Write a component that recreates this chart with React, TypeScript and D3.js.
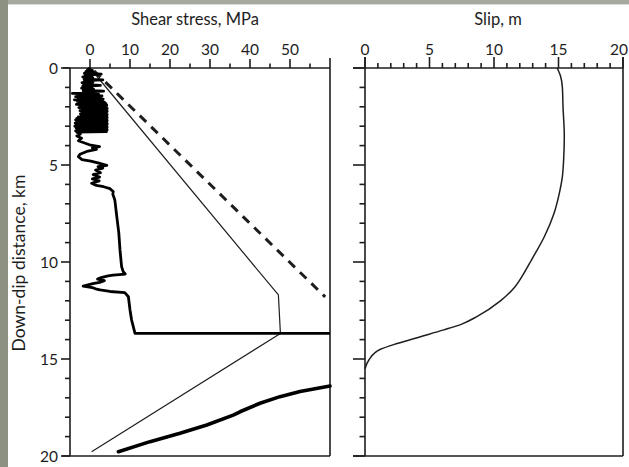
import React from "react";
import * as d3 from "d3";

// Down-dip profiles along the fault: [depth km, shear stress MPa]
const stressDrop: [number, number][] = [
  [0.0, 0.0], [0.08, -0.6], [0.12, 0.6], [0.17, -1.0], [0.22, 0.9], [0.27, -1.4],
  [0.32, 2.8], [0.36, -1.2], [0.41, 0.5], [0.46, -1.8], [0.51, 0.7], [0.56, -1.5],
  [0.61, 3.2], [0.65, -1.3], [0.7, 0.8], [0.75, -2.0], [0.8, 0.6], [0.85, -1.6],
  [0.9, 2.6], [0.94, -1.8], [0.99, 0.5], [1.04, -2.1], [1.09, 0.9], [1.14, -1.7],
  [1.19, 3.4], [1.24, -1.5], [1.29, 0.6], [1.31, -4.4], [1.34, 1.0],
  [1.36, 2.2], [1.4, -3.0], [1.44, 3.0], [1.48, -3.6], [1.52, 2.6], [1.56, -2.4],
  [1.6, 3.3], [1.64, -3.9], [1.68, 3.1], [1.72, -3.2], [1.76, 3.6], [1.8, -2.6],
  [1.84, 4.0], [1.88, -3.4], [1.92, 4.2], [1.96, -2.2], [2.0, 4.1], [2.04, -2.8],
  [2.08, 4.3], [2.12, -2.0], [2.16, 4.2], [2.2, -2.5], [2.24, 4.3], [2.28, -1.9],
  [2.32, 4.1], [2.36, -2.4], [2.4, 4.3], [2.44, -2.2], [2.48, 4.2], [2.52, -2.9],
  [2.56, 4.3], [2.6, -3.3], [2.64, 4.2], [2.68, -3.6], [2.72, 4.3], [2.76, -3.1],
  [2.8, 4.2], [2.84, -3.7], [2.88, 4.3], [2.92, -3.4], [2.96, 4.2], [3.0, -3.8],
  [3.04, 4.3], [3.08, -3.5], [3.12, 4.2], [3.16, -3.2], [3.2, 4.3], [3.24, -3.6],
  [3.28, 4.1], [3.31, -3.3],
  [3.4, -2.4], [3.5, -3.3], [3.62, -2.1], [3.75, -2.9], [3.88, -1.2], [3.98, 0.2],
  [4.05, 2.4], [4.12, 0.6], [4.2, 1.6], [4.3, -0.8], [4.45, -2.5], [4.57, -2.9],
  [4.72, -2.0], [4.8, 0.2], [4.9, 2.2], [5.02, 4.2], [5.08, 2.0], [5.16, 3.2],
  [5.26, 1.4], [5.4, 2.6], [5.5, 0.8], [5.62, 2.4], [5.72, 0.6], [5.82, 2.3],
  [5.94, 0.4], [6.05, 1.6], [6.12, 3.4], [6.22, 5.0], [6.37, 5.8], [6.5, 5.7],
  [6.8, 6.2], [7.66, 6.7], [8.5, 7.2], [9.38, 7.5], [10.24, 7.9], [10.5, 8.3],
  [10.62, 8.8], [10.68, 5.8], [10.72, 4.5], [10.8, 2.8], [10.88, 1.9], [10.96, 3.6],
  [11.05, 2.4], [11.12, 0.7], [11.24, -1.7], [11.32, 0.6], [11.38, 1.4], [11.44, 2.5],
  [11.52, 5.0], [11.58, 8.7], [11.79, 9.6], [12.47, 10.0], [12.99, 10.4],
  [13.68, 11.25], [13.68, 60],
];

// Envelope of the densely oscillating shallow section: [depth km, low MPa, high MPa]
const stressBand: [number, number, number][] = [
  [0.1, -0.8, 0.5], [0.4, -1.5, 0.6], [0.8, -1.8, 0.7], [1.25, -2.0, 0.8],
  [1.34, -3.0, 2.0], [1.5, -3.4, 3.0], [1.8, -3.0, 3.6], [1.9, -3.0, 4.2],
  [2.1, -2.2, 4.3], [2.5, -2.5, 4.3], [2.7, -3.5, 4.3], [3.0, -3.6, 4.3],
  [3.3, -3.4, 4.2],
];

const staticStrength: [number, number][] = [
  [0.0, 0.0], [11.7, 47.1], [13.68, 47.6], [19.78, 0.4],
];

const lithostatic: [number, number][] = [
  [0.15, 1.0], [11.8, 58.8],
];

const deepStress: [number, number][] = [
  [19.78, 7.1], [19.26, 15.0], [18.83, 22.5], [18.4, 29.2], [17.89, 35.8],
  [17.72, 37.5], [17.28, 42.5], [16.94, 47.5], [16.68, 52.5], [16.39, 60.0],
];

// [depth km, slip m]
const slipProfile: [number, number][] = [
  [0, 14.9], [0.4, 15.15], [1.0, 15.3], [2.0, 15.35], [3.5, 15.45], [4.7, 15.4],
  [5.6, 15.3], [6.5, 15.05], [7.5, 14.65], [8.7, 13.9], [9.9, 12.9], [10.6, 12.3],
  [11.3, 11.6], [12.0, 10.5], [12.8, 8.7], [13.2, 7.5], [13.5, 6.1], [13.85, 4.3],
  [14.2, 2.5], [14.5, 1.2], [15.05, 0.3], [15.5, 0],
];

const stressMajor = [0, 10, 20, 30, 40, 50];
const stressMinor = [5, 15, 25, 35, 45, 55];
const depthLabels = [0, 5, 10, 15, 20];
const depthTicks = d3.range(0, 21);
const slipLabels = [0, 5, 10, 15, 20];
const slipTicks = d3.range(0, 21);

const FONT = "Lato, 'Open Sans', sans-serif";
const INK = "#1e1e1e";

export default function App() {
  const W = 629;
  const H = 467;
  const xs = d3.scaleLinear().domain([-5, 60]).range([70, 330]);
  const xm = d3.scaleLinear().domain([0, 20]).range([365, 623]);
  const y = d3.scaleLinear().domain([0, 20]).range([68, 456]);

  const stressLine = d3
    .line<[number, number]>()
    .x((d) => xs(d[1]))
    .y((d) => y(d[0]));
  const bandArea = d3
    .area<[number, number, number]>()
    .y((d) => y(d[0]))
    .x0((d) => xs(d[1]))
    .x1((d) => xs(d[2]));
  const slipLine = d3
    .line<[number, number]>()
    .x((d) => xm(d[1]))
    .y((d) => y(d[0]))
    .curve(d3.curveMonotoneY);

  const top = y(0);
  const bottom = y(20);

  return (
    <svg
      width={W}
      height={H}
      style={{ position: "absolute", left: 0, top: 0, background: "#fff" }}
      fontFamily={FONT}
    >
      <rect x={0} y={0} width={W} height={H} fill="#fff" />
      <rect x={0} y={0} width={W} height={4} fill="#a6a99f" />
      <rect x={0} y={4} width={W} height={1} fill="#d9dbd5" />
      <rect x={0} y={0} width={8} height={H} fill="#8d9181" />

      {/* titles */}
      <text x={195} y={25} textAnchor="middle" fontSize={16.5} fill={INK}>
        Shear stress, MPa
      </text>
      <text x={498} y={25} textAnchor="middle" fontSize={16.5} fill={INK}>
        Slip, m
      </text>
      <text
        transform={`translate(25,${263}) rotate(-90)`}
        textAnchor="middle"
        fontSize={17.5}
        fill={INK}
      >
        Down-dip distance, km
      </text>

      {/* stress panel frame */}
      <g stroke={INK} strokeWidth={1.6} fill="none">
        <line x1={63} x2={xs(60)} y1={top} y2={top} />
        <line x1={xs(-5)} x2={xs(-5)} y1={top} y2={bottom} />
        <line x1={62} x2={xs(60)} y1={bottom} y2={bottom} />
        <line x1={xs(60)} x2={xs(60)} y1={top - 10} y2={bottom} />
        {stressMajor.map((v) => (
          <line key={"sM" + v} x1={xs(v)} x2={xs(v)} y1={top} y2={top - 9} />
        ))}
        {stressMinor.map((v) => (
          <line key={"sm" + v} x1={xs(v)} x2={xs(v)} y1={top} y2={top - 4.5} />
        ))}
        {depthTicks.map((v) => (
          <line
            key={"d" + v}
            x1={xs(-5)}
            x2={xs(-5) - (v % 5 === 0 ? 9 : 5)}
            y1={y(v)}
            y2={y(v)}
          />
        ))}
      </g>
      {stressMajor.map((v) => (
        <text key={"st" + v} x={xs(v)} y={55} textAnchor="middle" fontSize={15.5} fill={INK}>
          {v}
        </text>
      ))}
      {depthLabels.map((v) => (
        <text key={"dt" + v} x={58} y={y(v) + 5.5} textAnchor="end" fontSize={15.5} fill={INK}>
          {v}
        </text>
      ))}

      {/* slip panel frame */}
      <g stroke={INK} strokeWidth={1.6} fill="none">
        <line x1={353} x2={xm(20)} y1={top} y2={top} />
        <line x1={xm(0)} x2={xm(0)} y1={top - 11} y2={bottom} />
        <line x1={353} x2={xm(20)} y1={bottom} y2={bottom} />
        <line x1={xm(20)} x2={xm(20)} y1={top - 11} y2={bottom} />
        {slipTicks.map((v) => (
          <line
            key={"m" + v}
            x1={xm(v)}
            x2={xm(v)}
            y1={top}
            y2={top - (v % 5 === 0 ? 11 : 5)}
          />
        ))}
        {depthTicks.map((v) => (
          <line
            key={"md" + v}
            x1={xm(0)}
            x2={xm(0) - (v % 5 === 0 ? 12 : 5.5)}
            y1={y(v)}
            y2={y(v)}
          />
        ))}
      </g>
      {slipLabels.map((v) => {
        const last = v === slipLabels[slipLabels.length - 1];
        return (
          <text
            key={"mt" + v}
            x={last ? W - 1 : xm(v)}
            y={55}
            textAnchor={last ? "end" : "middle"}
            fontSize={15.5}
            fill={INK}
          >
            {v}
          </text>
        );
      })}

      {/* stress curves */}
      <g fill="none" strokeLinejoin="round">
        <path d={stressLine(staticStrength) ?? ""} stroke={INK} strokeWidth={1.2} />
        <path
          d={stressLine(lithostatic) ?? ""}
          stroke={INK}
          strokeWidth={3}
          strokeDasharray="9,7"
        />
        <path d={bandArea(stressBand) ?? ""} fill="#000" stroke="none" />
        <path d={stressLine(stressDrop) ?? ""} stroke="#000" strokeWidth={2.8} />
        <path
          d={stressLine(deepStress) ?? ""}
          stroke="#000"
          strokeWidth={3.6}
          strokeLinecap="round"
        />
      </g>

      {/* slip curve */}
      <path d={slipLine(slipProfile) ?? ""} fill="none" stroke={INK} strokeWidth={1.5} />
    </svg>
  );
}
